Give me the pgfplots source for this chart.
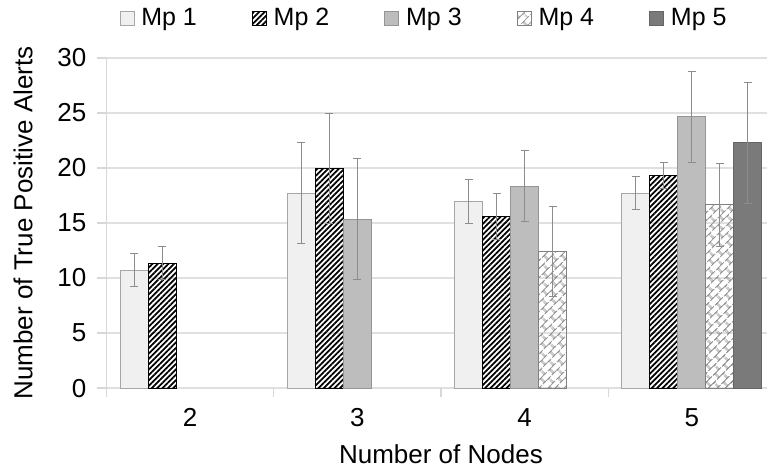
\documentclass[border=0pt]{standalone}
\usepackage{fontspec}
\setmainfont{Liberation Sans}
\usepackage{pgfplots}
\pgfplotsset{compat=1.18}
\usetikzlibrary{patterns.meta}
\definecolor{mpone}{HTML}{F0F0F0}
\definecolor{mponeb}{HTML}{A6A6A6}
\definecolor{mpthree}{HTML}{BDBDBD}
\definecolor{mpthreeb}{HTML}{959595}
\definecolor{mpfive}{HTML}{7A7A7A}
\definecolor{mpfiveb}{HTML}{666666}
\definecolor{ebar}{HTML}{8C8C8C}
\definecolor{gridc}{HTML}{E0E0E0}
\definecolor{axc}{HTML}{D8D8D8}
\definecolor{brick}{HTML}{6E6E6E}
\tikzdeclarepattern{
  name=diagbricks,
  type=uncolored,
  bounding box={(0pt,0pt) and (6pt,6pt)},
  tile size={(6pt,6pt)},
  tile transformation={rotate=45},
  code={
    \draw[line width=0.5pt] (0pt,0.75pt) -- (6pt,0.75pt) (0pt,3.75pt) -- (6pt,3.75pt)
      (1.5pt,0.75pt) -- (1.5pt,3.75pt) (4.5pt,3.75pt) -- (4.5pt,6pt) (4.5pt,0pt) -- (4.5pt,0.75pt);
  }
}
\pgfplotsset{eb/.style={error bars/.cd, y dir=both, y explicit,
  error bar style={color=ebar, line width=0.5pt},
  error mark options={rotate=90, mark size=2pt, color=ebar, line width=0.5pt}}}
\begin{document}
\begin{tikzpicture}
\begin{axis}[
  scale only axis, width=334.5pt, height=165pt,
  ybar=0pt, bar width=14pt,
  xmin=-0.5, xmax=3.5, ymin=0, ymax=30,
  xtick={-0.5,0.5,1.5,2.5,3.5}, xticklabels={},
  extra x ticks={0,1,2,3}, extra x tick labels={2,3,4,5},
  extra x tick style={major tick length=0pt, tick style={draw=none}, xticklabel style={yshift=-6.7pt}},
  ytick={0,5,...,30},
  /pgf/number format/assume math mode=true,
  tick label style={font=\fontsize{13}{15}\selectfont},
  tick align=outside, major tick length=4.5pt,
  tick style={color=axc, line width=0.6pt},
  ymajorgrids, grid style={color=gridc, line width=0.7pt},
  axis x line*=bottom, axis y line*=left,
  axis line style={color=axc, line width=0.6pt},
  x axis line style={draw=none},
  yticklabel style={xshift=-2pt},
  ylabel={Number of True Positive Alerts},
  xlabel={Number of Nodes},
  every axis y label/.style={at={(axis description cs:-0.1247,0.5)}, rotate=90, anchor=center, font=\fontsize{13}{15}\selectfont},
  every axis x label/.style={at={(axis description cs:0.5,-0.2)}, anchor=center, font=\fontsize{13}{15}\selectfont},
  legend image code/.code={\draw[#1] (0pt,-3.5pt) rectangle (7pt,3.5pt);},
  legend columns=5,
  legend style={draw=none, fill=none, at={(axis description cs:0.019,1.12)}, anchor=west,
    inner sep=0pt, font=\fontsize{12.5}{14}\selectfont,
    nodes={inner sep=0pt},
    /tikz/every odd column/.append style={column sep=3.5pt},
    /tikz/every even column/.append style={column sep=27.5pt}},
  legend cell align=left,
]
\addplot[fill=mpone, draw=mponeb, eb] coordinates {
  (0,10.7) +- (0,1.5)
  (1,17.7) +- (0,4.6)
  (2,17.0) +- (0,2.0)
  (3,17.7) +- (0,1.5)
};
\addplot[draw=black, pattern={Lines[angle=45,distance=1.9pt,line width=0.9pt]}, pattern color=black, eb] coordinates {
  (0,11.35) +- (0,1.5)
  (1,20.0) +- (0,5.0)
  (2,15.6) +- (0,2.1)
  (3,19.3) +- (0,1.2)
};
\addplot[fill=mpthree, draw=mpthreeb, eb] coordinates {
  (1,15.35) +- (0,5.5)
  (2,18.35) +- (0,3.2)
  (3,24.65) +- (0,4.15)
};
\addplot[draw=gray, pattern=diagbricks, pattern color=brick, eb] coordinates {
  (2,12.4) +- (0,4.1)
  (3,16.65) +- (0,3.8)
};
\addplot[fill=mpfive, draw=mpfiveb, eb] coordinates {
  (3,22.3) +- (0,5.5)
};
\legend{Mp 1, Mp 2, Mp 3, Mp 4, Mp 5}
\end{axis}
\pgfresetboundingbox
\path ([xshift=-53.2pt,yshift=-41pt]current axis.south west) rectangle ([xshift=-4.25pt,yshift=29pt]current axis.north east);
\end{tikzpicture}
\end{document}
